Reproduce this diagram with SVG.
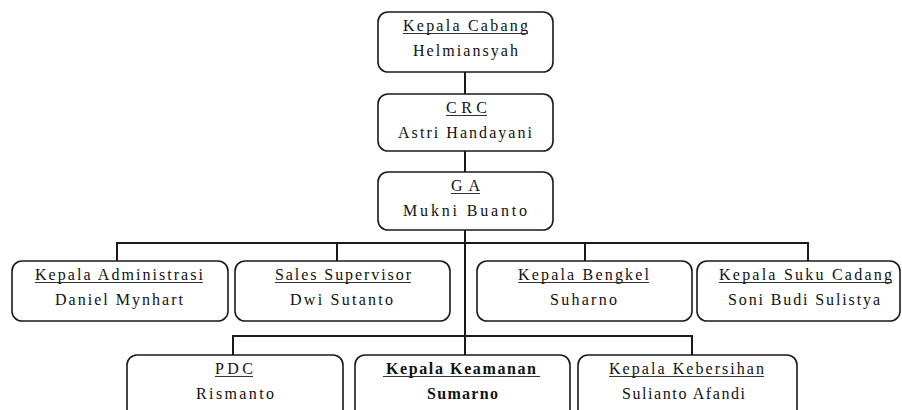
<svg xmlns="http://www.w3.org/2000/svg" width="902" height="410" viewBox="0 0 902 410" font-family="'Liberation Serif', 'DejaVu Serif', serif">
<style>
.box{fill:#fff;stroke:#1a1a1a;stroke-width:1.6}
.t{font-family:'Liberation Serif','DejaVu Serif',serif;font-size:16px;fill:#111;text-anchor:middle}
.b{font-weight:bold}
.ul{stroke:#333;stroke-width:1}
.c{fill:none;stroke:#1a1a1a;stroke-width:2}
</style>
<rect width="902" height="410" fill="#fff"/>
<g id="connectors">
<path class="c" d="M465 72V94M465 150V172M465 230V355"/>
<path class="c" d="M117 261V243H808V261M337 243V261M585 243V261"/>
<path class="c" d="M233 355V336H692V355"/>
</g>
<g id="kepala-cabang">
<rect class="box" x="378" y="12" width="175" height="60" rx="10"/>
<text class="t" x="465.5" y="31" textLength="125" lengthAdjust="spacing">Kepala Cabang</text>
<line class="ul" x1="403" y1="33.5" x2="528" y2="33.5"/>
<text class="t" x="465.5" y="56" textLength="105" lengthAdjust="spacing">Helmiansyah</text>
</g>
<g id="crc">
<rect class="box" x="378" y="94" width="175" height="57" rx="10"/>
<text class="t" x="466.5" y="113" textLength="41" lengthAdjust="spacing">CRC</text>
<line class="ul" x1="446" y1="115.5" x2="487" y2="115.5"/>
<text class="t" x="465" y="138" textLength="134" lengthAdjust="spacing">Astri Handayani</text>
</g>
<g id="ga">
<rect class="box" x="378" y="172" width="175" height="58" rx="10"/>
<text class="t" x="465.5" y="191" textLength="29" lengthAdjust="spacing">GA</text>
<line class="ul" x1="451" y1="193.5" x2="480" y2="193.5"/>
<text class="t" x="465" y="216" textLength="124" lengthAdjust="spacing">Mukni Buanto</text>
</g>
<g id="kepala-administrasi">
<rect class="box" x="12" y="261" width="216" height="60" rx="10"/>
<text class="t" x="119" y="280" textLength="168" lengthAdjust="spacing">Kepala Administrasi</text>
<line class="ul" x1="35" y1="282.5" x2="203" y2="282.5"/>
<text class="t" x="119" y="305" textLength="128" lengthAdjust="spacing">Daniel Mynhart</text>
</g>
<g id="sales-supervisor">
<rect class="box" x="235" y="261" width="215" height="60" rx="10"/>
<text class="t" x="343" y="280" textLength="136" lengthAdjust="spacing">Sales Supervisor</text>
<line class="ul" x1="275" y1="282.5" x2="411" y2="282.5"/>
<text class="t" x="341.5" y="305" textLength="103" lengthAdjust="spacing">Dwi Sutanto</text>
</g>
<g id="kepala-bengkel">
<rect class="box" x="477" y="261" width="215" height="60" rx="10"/>
<text class="t" x="583.5" y="280" textLength="131" lengthAdjust="spacing">Kepala Bengkel</text>
<line class="ul" x1="518" y1="282.5" x2="649" y2="282.5"/>
<text class="t" x="583.5" y="305" textLength="67" lengthAdjust="spacing">Suharno</text>
</g>
<g id="kepala-suku-cadang">
<rect class="box" x="697" y="261" width="203" height="60" rx="10"/>
<text class="t" x="805.5" y="280" textLength="173" lengthAdjust="spacing">Kepala Suku Cadang</text>
<line class="ul" x1="719" y1="282.5" x2="892" y2="282.5"/>
<text class="t" x="804" y="305" textLength="152" lengthAdjust="spacing">Soni Budi Sulistya</text>
</g>
<g id="pdc">
<rect class="box" x="127" y="355" width="216" height="70" rx="10"/>
<text class="t" x="234" y="374" textLength="38" lengthAdjust="spacing">PDC</text>
<line class="ul" x1="215" y1="376.5" x2="253" y2="376.5"/>
<text class="t" x="235" y="399" textLength="78" lengthAdjust="spacing">Rismanto</text>
</g>
<g id="kepala-keamanan">
<rect class="box" x="355" y="355" width="215" height="70" rx="10"/>
<text class="t b" x="461" y="374" textLength="150" lengthAdjust="spacing">Kepala Keamanan</text>
<line class="ul" x1="383" y1="376.5" x2="540" y2="376.5"/>
<text class="t b" x="462.5" y="399" textLength="71" lengthAdjust="spacing">Sumarno</text>
</g>
<g id="kepala-kebersihan">
<rect class="box" x="578" y="355" width="219" height="70" rx="10"/>
<text class="t" x="686.5" y="374" textLength="155" lengthAdjust="spacing">Kepala Kebersihan</text>
<line class="ul" x1="609" y1="376.5" x2="764" y2="376.5"/>
<text class="t" x="683.5" y="399" textLength="123" lengthAdjust="spacing">Sulianto Afandi</text>
</g>
</svg>
